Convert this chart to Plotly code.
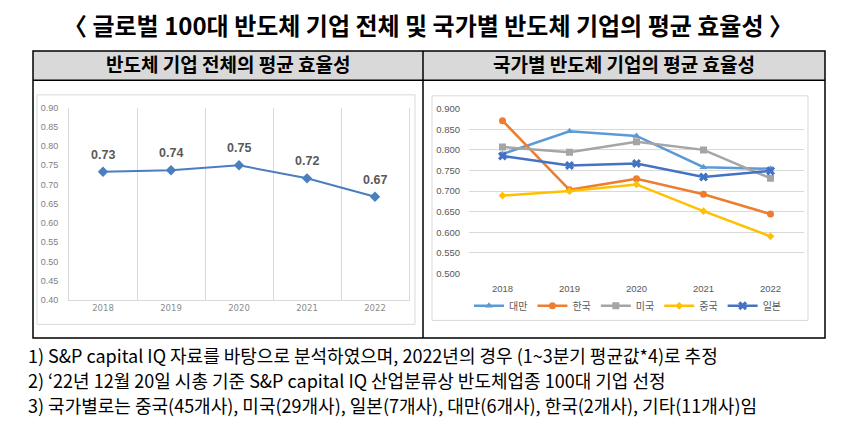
import plotly.graph_objects as go

# ---------------- data ----------------
years = ["2018", "2019", "2020", "2021", "2022"]
overall = [0.733, 0.737, 0.750, 0.716, 0.668]

countries = ["대만", "한국", "미국", "중국", "일본"]
taiwan = [0.790, 0.845, 0.834, 0.758, 0.754]
korea = [0.871, 0.703, 0.730, 0.692, 0.644]
usa = [0.807, 0.794, 0.820, 0.800, 0.731]
china = [0.689, 0.700, 0.716, 0.651, 0.590]
japan = [0.785, 0.762, 0.767, 0.734, 0.749]
country_values = [taiwan, korea, usa, china, japan]

title_text = "〈 글로벌 100대 반도체 기업 전체 및 국가별 반도체 기업의 평균 효율성 〉"
left_header = "반도체 기업 전체의 평균 효율성"
right_header = "국가별 반도체 기업의 평균 효율성"
notes = [
    "1) S&P capital IQ 자료를 바탕으로 분석하였으며, 2022년의 경우 (1~3분기 평균값*4)로 추정",
    "2) ‘22년 12월 20일 시총 기준 S&P capital IQ 산업분류상 반도체업종 100대 기업 선정",
    "3) 국가별로는 중국(45개사), 미국(29개사), 일본(7개사), 대만(6개사), 한국(2개사), 기타(11개사)임",
]

# ---------------- styles ----------------
W, H = 849, 427
KR = "Noto Sans CJK KR"
series_colors = ["#5b9bd5", "#ed7d31", "#a5a5a5", "#ffc000", "#4472c4"]
series_symbols = ["triangle-up", "circle", "square", "diamond", "x"]
series_sizes = [7, 7, 7, 6, 8]


def fx(p):
    return p / W


def fy(p):
    return 1 - p / H


fig = go.Figure()

# left chart
fig.add_trace(go.Scatter(
    x=years, y=overall, mode="lines+markers",
    line=dict(color="#4a7ebf", width=2),
    marker=dict(symbol="diamond", size=8, color="#4a7ebf"),
    xaxis="x", yaxis="y", showlegend=False, hoverinfo="skip",
))

# right chart
for name, vals, c, s, sz in zip(countries, country_values, series_colors, series_symbols, series_sizes):
    fig.add_trace(go.Scatter(
        x=years, y=vals, mode="lines+markers", name=name,
        line=dict(color=c, width=2.5),
        marker=dict(symbol=s, size=sz, color=c),
        xaxis="x2", yaxis="y2", hoverinfo="skip",
    ))

annotations = []
# data labels for the left chart (category index positions on the category axis)
for i, v in enumerate(overall):
    annotations.append(dict(
        x=i, y=v, xref="x", yref="y", text=f"{v:.2f}", showarrow=False,
        yshift=17, font=dict(family="Liberation Sans", size=12.5, color="#595959", weight="bold"),
    ))

# title & headers
annotations.append(dict(x=fx(428), y=fy(20), xref="paper", yref="paper", text=title_text,
                        showarrow=False, xanchor="center", yanchor="middle",
                        font=dict(family=KR, size=24, color="#000000", weight="bold")))
annotations.append(dict(x=fx(228), y=fy(60), xref="paper", yref="paper", text=left_header,
                        showarrow=False, xanchor="center", yanchor="middle",
                        font=dict(family=KR, size=19, color="#000000", weight="bold")))
annotations.append(dict(x=fx(624), y=fy(60), xref="paper", yref="paper", text=right_header,
                        showarrow=False, xanchor="center", yanchor="middle",
                        font=dict(family=KR, size=19, color="#000000", weight="bold")))
for i, t in enumerate(notes):
    annotations.append(dict(x=fx(26), y=fy(358 + 26 * i), xref="paper", yref="paper", text=t,
                            showarrow=False, xanchor="left", yanchor="middle",
                            font=dict(family=KR, size=18, color="#000000")))

shapes = [
    # header fill
    dict(type="rect", xref="paper", yref="paper", x0=fx(33), x1=fx(825), y0=fy(77), y1=fy(47),
         fillcolor="#d9d9d9", line=dict(width=0), layer="below"),
    # inner chart boxes
    dict(type="rect", xref="paper", yref="paper", x0=fx(37), x1=fx(415), y0=fy(327), y1=fy(92),
         line=dict(color="#d9d9d9", width=1), layer="below"),
    dict(type="rect", xref="paper", yref="paper", x0=fx(432), x1=fx(808), y0=fy(323), y1=fy(93),
         line=dict(color="#d9d9d9", width=1), layer="below"),
    # table frame
    dict(type="rect", xref="paper", yref="paper", x0=fx(33), x1=fx(825), y0=fy(341), y1=fy(47),
         line=dict(color="#000000", width=1.5)),
    dict(type="line", xref="paper", yref="paper", x0=fx(33), x1=fx(825), y0=fy(77), y1=fy(77),
         line=dict(color="#000000", width=1.5)),
    dict(type="line", xref="paper", yref="paper", x0=fx(423), x1=fx(423), y0=fy(341), y1=fy(47),
         line=dict(color="#000000", width=1.5)),
]

fig.update_layout(
    width=W, height=H,
    margin=dict(l=0, r=0, t=0, b=0),
    paper_bgcolor="#ffffff", plot_bgcolor="rgba(0,0,0,0)",
    font=dict(family=KR),
    showlegend=True,
    xaxis=dict(domain=[fx(69), fx(409)], anchor="y", type="category", range=[-0.5, 4.5],
               tickson="boundaries", showgrid=True, gridcolor="#d9d9d9", gridwidth=1,
               showline=True, linecolor="#d9d9d9", linewidth=1,
               ticks="outside", ticklen=10, tickcolor="rgba(0,0,0,0)",
               tickfont=dict(family="DejaVu Sans", size=8.5, color="#8c8c8c"), fixedrange=True),
    yaxis=dict(domain=[fy(302), fy(105)], anchor="x", range=[0.4, 0.9], dtick=0.05, tick0=0.4,
               tickformat=".2f", showgrid=False, zeroline=False,
               showline=True, mirror=True, linecolor="#d9d9d9", linewidth=1,
               ticks="outside", ticklen=8, tickcolor="rgba(0,0,0,0)",
               tickfont=dict(family="Liberation Sans", size=9, color="#808080"), fixedrange=True),
    xaxis2=dict(domain=[fx(469), fx(804)], anchor="y2", type="category", range=[-0.5, 4.5],
                showgrid=False, showline=False, zeroline=False,
                ticks="outside", ticklen=6, tickcolor="rgba(0,0,0,0)",
                tickfont=dict(family="Liberation Sans", size=9.5, color="#595959"), fixedrange=True),
    yaxis2=dict(domain=[fy(275), fy(106)], anchor="x2", range=[0.4995, 0.9005], dtick=0.05, tick0=0.5,
                tickformat=".3f", showgrid=True, gridcolor="#d9d9d9", gridwidth=1, zeroline=False,
                showline=False, ticks="outside", ticklen=6, tickcolor="rgba(0,0,0,0)",
                tickfont=dict(family="Liberation Sans", size=9.5, color="#595959"), fixedrange=True),
    legend=dict(orientation="h", x=fx(628), xanchor="center", y=fy(308), yanchor="middle",
                font=dict(family=KR, size=10, color="#595959"), bgcolor="rgba(0,0,0,0)",
                itemwidth=30, tracegroupgap=0),
    annotations=annotations,
    shapes=shapes,
)

fig.write_html(
    "out.html",
    config={"displayModeBar": False},
    post_script="document.body.style.margin='0px';document.body.style.overflow='hidden';",
)
